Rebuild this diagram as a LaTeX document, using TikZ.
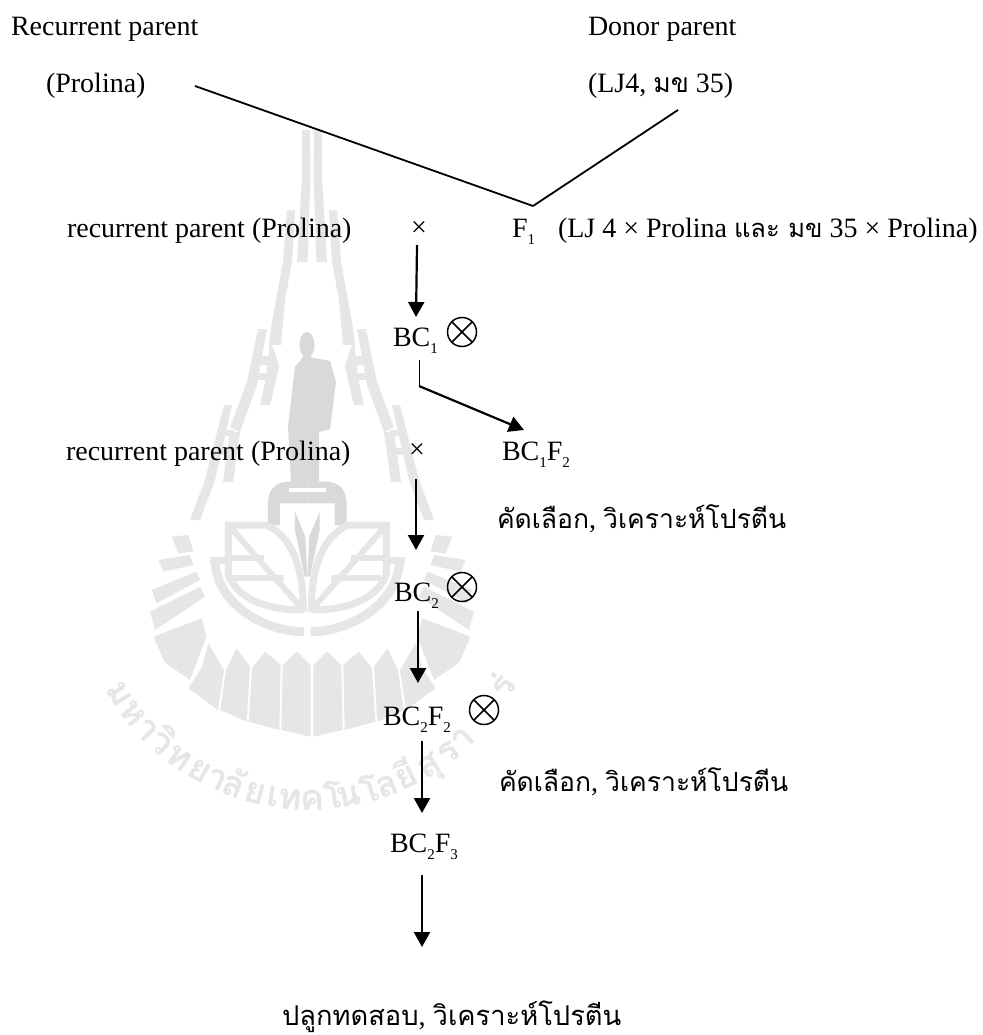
\documentclass[tikz,border=0pt]{standalone}
\usepackage{fontspec}
\usetikzlibrary{arrows.meta}
\setmainfont{Liberation Serif}
\newfontfamily\thaifont[Script=Thai]{Loma}
\newcommand{\thaitxt}[1]{{\thaifont\fontsize{26.5}{26.5}\selectfont #1}}
\newcommand{\thaismall}[1]{{\thaifont\fontsize{25.5}{25.5}\selectfont #1}}
\newcommand{\thaibig}[1]{{\thaifont\fontsize{27.3}{27.3}\selectfont #1}}
\newcommand{\sbs}[1]{\raisebox{-0.28em}{\fontsize{15}{15}\selectfont #1}}
\definecolor{wmgray}{HTML}{E6E6E6}
\definecolor{wmdark}{HTML}{D9D9D9}
\tikzset{
  lbl/.style={anchor=base west,inner sep=0pt,outer sep=0pt,font=\fontsize{28}{30}\selectfont},
  crossmark/.style={anchor=center,inner sep=0pt,outer sep=0pt,font=\fontsize{28}{28}\selectfont},
  selfing/.style={circle,draw,line width=1.5pt,minimum size=29pt,inner sep=0pt,outer sep=0pt,
    path picture={\draw[line width=1.5pt]
      (path picture bounding box.north west)--(path picture bounding box.south east)
      (path picture bounding box.north east)--(path picture bounding box.south west);}},
  crossline/.style={line width=1.8pt},
  thinline/.style={line width=1pt},
  arr/.style={line width=2.2pt,-{Triangle[length=15pt,width=16pt]}},
  wmtext/.style={text=wmgray,inner sep=0pt,font=\thaifont\bfseries\fontsize{36}{36}\selectfont},
}
\newcommand{\leafhalf}{%
  \fill[wmdark] (0,5)--(55,5) .. controls (100,5) and (118,35) .. (118,70)--(118,135)--(82,135)--(82,70)--(0,70)--cycle;
  \fill[white] (0,25) rectangle (55,35);
  \fill[wmdark] (37,95)--(6,170)--(0,290)--(8,290)--(37,150)--cycle;
  \draw[wmgray,line width=9pt] (277,235) .. controls (277,370) and (130,455) .. (10,455);
  \draw[wmgray,line width=7pt] (292,240)--(237,240);
  \draw[wmgray,line width=7pt,line join=miter] (12,395)
     .. controls (12,250) and (50,170) .. (122,135)--(237,135)--(237,285)
     .. controls (215,340) and (150,390) .. (12,390);
  \draw[wmgray,line width=6pt] (237,135)--(12,390);
  \draw[wmgray,line width=6pt] (237,235)--(130,235);
  \draw[wmgray,line width=6pt] (222,295)--(70,295);
}
\newcommand{\fanhalf}{%
  \fill[wmgray] (421,170)--(371,165)--(356,215)--(401,220)--cycle;
  \fill[wmgray] (461,240)--(366,225)--(356,255)--(446,275)--cycle;
  \fill[wmgray] (481,330)--(346,275)--(336,300)--(466,370)--cycle;
  \fill[wmgray] (486,395)--(336,320)--(321,350)--(471,450)--cycle;
  \fill[wmgray] (476,470)--(331,415)--(316,470)--(366,600)--(441,548)--cycle;
  \fill[wmgray] (264,570)--(311,490)--(330,560)--(370,625)--(282,690)--cycle;
  \fill[wmgray] (186,560)--(226,505)--(258,570)--(275,690)--(196,725)--cycle;
  \fill[wmgray] (94,555)--(141,515)--(180,565)--(190,725)--(98,750)--cycle;
  \fill[wmgray] (4,555)--(45,515)--(88,555)--(92,750)--(4,770)--cycle;
}
\newcommand{\spirehalf}{%
  \fill[wmgray] (10,130)--(2,130)--(1.5,178)--(4.5,262)--(15,262)--(10,178)--cycle;
  \fill[wmgray] (17,210)--(25,210)--(29,262)--(40,322)--(43,345)--(31,345)--(27,300)--(20,262)--cycle;
  \fill[wmgray] (45,329)--(54,329)--(65,382)--(82,427)--(72,432)--(55,385)--cycle;
  \fill[wmgray] (42,340)--(33,365)--(36,380)--(42,405)--(52,405)--(46,378)--(44,360)--cycle;
  \fill[wmgray] (40,356) rectangle (55,365);
  \fill[wmgray] (40,373) rectangle (58,380);
  \fill[wmgray] (80,405)--(88,405)--(107,480)--(122,520)--(112,520)--(97,480)--cycle;
  \fill[wmgray] (72,432)--(82,432)--(89,482)--(79,482)--cycle;
  \fill[wmgray] (78,430) rectangle (95,436);
  \fill[wmgray] (78,448) rectangle (100,455);
}
\begin{document}
\begin{tikzpicture}[x=1pt,y=-1pt]
\fill[white] (0,0) rectangle (982,1035);
\useasboundingbox (0,0) rectangle (982,1035);
% watermark
\foreach \s in {1,-1}{
  \begin{scope}[shift={(312,0)},xscale=-\s] \spirehalf \end{scope}
  \begin{scope}[shift={(312,480)},xscale=-\s/3,yscale=1/3] \fanhalf \end{scope}
  \begin{scope}[shift={(307.3,480)},xscale=-\s/3,yscale=1/3] \leafhalf \end{scope}
}
\fill[wmdark] (307,345) ellipse (7.5 and 13);
\fill[wmdark] (295,367)--(304,356)--(330,361)--(336,382)--(330,429)--(319,432)--(319,483)--(291,483)--(288,426)--cycle;
\foreach \a/\t [count=\i] in {58/ม,52/ห,46.5/า,41.5/วิ,35.5/ท,29.5/ย,24.5/า,20/ลั,14/ย,9.5/เ,5/ท,-0.5/ค,-6/โ,-10/น,-15.5/โ,-20/ล,-25.5/ยี,-32/สุ,-38/ร,-43/า,-60/ร่}{
  \node[wmtext,rotate=-\a,anchor=base] (wm\i) at ({310-235*sin(\a)},{575+235*cos(\a)}) {\t};
}
% labels
\node[lbl] (rp) at (11,36) {Recurrent parent};
\node[lbl] (dp) at (588,36) {Donor parent};
\node[lbl] (pro) at (46,93) {(Prolina)};
\node[lbl] (don) at (588,93) {(LJ4, \thaitxt{มข} 35)};
\coordinate (junction) at (533,206);
\node[lbl] (rp1) at (67,237) {recurrent parent (Prolina)};
\node[crossmark] (x1) at (419,229) {×};
\node[lbl] (f1) at (512,237) {F\sbs{1}};
\node[lbl] (f1info) at (558,237) {(LJ 4 × Prolina \thaismall{และ มข} 35 × Prolina)};
\node[lbl] (bc1) at (393,346) {BC\sbs{1}};
\node[selfing] (s1) at (462,332) {};
\node[lbl] (rp2) at (66,460) {recurrent parent (Prolina)};
\node[crossmark] (x2) at (417,451) {×};
\node[lbl] (bc1f2) at (502,460) {BC\sbs{1}F\sbs{2}};
\node[lbl] (sel1) at (497,528) {\thaitxt{คัดเลือก}, \thaitxt{วิเคราะห์โปรตีน}};
\node[lbl] (bc2) at (394,601) {BC\sbs{2}};
\node[selfing] (s2) at (462,587) {};
\node[lbl] (bc2f2) at (383,725) {BC\sbs{2}F\sbs{2}};
\node[selfing] (s3) at (484,710) {};
\node[lbl] (sel2) at (499,791) {\thaitxt{คัดเลือก}, \thaitxt{วิเคราะห์โปรตีน}};
\node[lbl] (bc2f3) at (390,852) {BC\sbs{2}F\sbs{3}};
\node[lbl] (final) at (282,1025) {\thaibig{ปลูกทดสอบ}, \thaibig{วิเคราะห์โปรตีน}};
% connectors
\draw[crossline] ([shift={(149,-7)}]pro.base west) -- (junction);
\draw[crossline] ([shift={(90,17)}]don.base west) -- (junction);
\draw[arr] ([shift={(-2,16)}]x1.center) -- ([shift={(23,-29)}]bc1.base west);
\coordinate (bend) at (419,386);
\draw[thinline] ([shift={(26,14)}]bc1.base west) -- (bend);
\draw[arr] (bend) -- ([shift={(22,-30)}]bc1f2.base west);
\draw[arr] ([shift={(-1,28)}]x2.center) -- ([shift={(22,-51)}]bc2.base west);
\draw[arr] ([shift={(24,10)}]bc2.base west) -- ([shift={(35,-42)}]bc2f2.base west);
\draw[arr] ([shift={(39,16)}]bc2f2.base west) -- ([shift={(32,-39)}]bc2f3.base west);
\draw[arr] ([shift={(32,23)}]bc2f3.base west) -- ([shift={(140,-78)}]final.base west);
\end{tikzpicture}
\end{document}
